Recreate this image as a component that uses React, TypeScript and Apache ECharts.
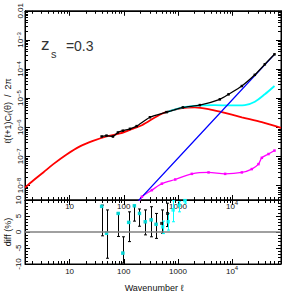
import React, { useEffect, useRef } from 'react';
import * as echarts from 'echarts';

// ---- top panel curves (ℓ, ℓ(ℓ+1)Cℓ/2π) ----
const redL = [1.5, 2.13, 3.26, 5, 8.8, 15.5, 27, 48, 85, 149, 216, 506, 1183, 2055, 3677, 6470, 15140, 35400, 80000];
const redC = [8.4e-9, 1.48e-8, 2.8e-8, 5.4e-8, 1.16e-7, 2.2e-7, 3.4e-7, 4.8e-7, 6.1e-7, 9.0e-7, 1.17e-6, 2.9e-6, 4.5e-6, 4.8e-6, 4.2e-6, 3.3e-6, 2.2e-6, 1.5e-6, 9.5e-7];

const blueL = [180, 1000, 10000, 60700];
const blueC = [2.8e-9, 8.6e-8, 8.6e-6, 3.2e-4];

const blackL = [39, 48, 63, 78, 96, 130, 173, 304, 617, 1233, 2540, 5940, 8600, 15140, 26300, 40200, 60700];
const blackC = [4.8e-7, 5.15e-7, 4.8e-7, 6.6e-7, 7.6e-7, 8.8e-7, 1.09e-6, 2.2e-6, 3.3e-6, 4.8e-6, 5.75e-6, 9.1e-6, 1.35e-5, 2.6e-5, 6.3e-5, 1.45e-4, 3.2e-4];

const cyanL = [617, 1233, 2540, 4800, 9080, 17200, 26300, 40200, 60700];
const cyanC = [3.3e-6, 4.8e-6, 5.6e-6, 5.75e-6, 5.6e-6, 5.75e-6, 7.5e-6, 1.35e-5, 2.6e-5];

const magL = [190, 216, 330, 506, 890, 1807, 3675, 7440, 15140, 23100, 30700, 35400, 47000, 60700];
const magC = [2.6e-9, 4.1e-9, 6.9e-9, 1.15e-8, 1.6e-8, 2.5e-8, 2.8e-8, 2.5e-8, 2.8e-8, 3.65e-8, 5.4e-8, 8.9e-8, 1.2e-7, 1.58e-7];

// ---- bottom panel: diff (%) ----
const binL = [39, 48, 79, 96, 123, 157, 195, 250, 321, 396, 500, 641];
const binVal = [8.0, -0.4, 5.8, -6.6, 3.0, 8.2, 5.8, 3.2, 3.8, 2.4, 2.7, 5.8];
const binLo = [-1.2, -8.2, -1.4, -9.7, -3.0, 3.4, 1.8, -0.9, -1.5, -2.0, -0.4, 1.7];
const binHi = [8.4, 6.9, 5.9, -1.5, 6.3, 8.4, 7.2, 6.9, 7.9, 5.8, 6.9, 9.0];

const cBinL = [39, 48, 79, 96, 123, 157, 195, 250, 321, 396, 521, 661, 817, 1054, 1343];
const cBinVal = [8.0, -0.4, 5.8, -6.6, 3.0, 8.2, 5.8, 3.2, 3.8, 2.4, 1.6, 3.2, 6.9, 8.4, 9.8];
const cBinLo = [8.0, -0.4, 5.8, -6.6, 3.0, 8.2, 5.8, 3.2, 3.8, 2.4, -0.5, 0.6, 3.2, 6.3, 9.0];
const cBinHi = [8.0, -0.4, 5.8, -6.6, 3.0, 8.2, 5.8, 3.2, 3.8, 2.4, 3.4, 5.8, 9.8, 9.5, 10];

const xTickLabels: Record<string, string> = { '1': '{n|10}', '2': '{n|100}', '3': '{n|1000}', '4': '{n|10}{s|4}' };
const yTickLabels: Record<string, string> = {
  '-2': '{n|0.01}', '-3': '{n|10}{s|−3}', '-4': '{n|10}{s|−4}', '-5': '{n|10}{s|−5}',
  '-6': '{n|10}{s|−6}', '-7': '{n|10}{s|−7}', '-8': '{n|10}{s|−8}',
};

const X_MIN = 1.5;
const X_MAX = 80000;
const Y_MIN = Math.pow(10, -8.5);
const Y_MAX = 0.01;

const FONT = "'Liberation Sans', 'DejaVu Sans', sans-serif";
const TXT = '#111';

function logLabel(map: Record<string, string>) {
  return (v: number) => {
    const l = Math.log10(v);
    const r = Math.round(l);
    if (Math.abs(l - r) > 1e-6) return '';
    return map[String(r)] ?? '';
  };
}

function minorTicks(lo: number, hi: number, kFrom: number, kTo: number) {
  const out: number[] = [];
  for (let k = kFrom; k <= kTo; k++) {
    for (let m = 2; m <= 9; m++) {
      const v = m * Math.pow(10, k);
      if (v > lo && v < hi) out.push(v);
    }
  }
  return out;
}

const zip = (a: number[], b: number[]) => a.map((v, i) => [v, b[i]]);

const RICH_X = {
  n: { fontSize: 8, fontFamily: FONT, color: TXT, lineHeight: 13 },
  s: { fontSize: 6, fontFamily: FONT, color: TXT, lineHeight: 7, verticalAlign: 'top' },
};
const RICH_Y = {
  n: { fontSize: 8, fontFamily: FONT, color: TXT, lineHeight: 8, verticalAlign: 'bottom' },
  s: { fontSize: 6, fontFamily: FONT, color: TXT, lineHeight: 5, verticalAlign: 'top', padding: [0, 0, 7, 0] },
};

export default function App() {
  const ref = useRef<HTMLDivElement>(null);
  useEffect(() => {
    if (!ref.current) return;
    const chart = echarts.init(ref.current, undefined, { renderer: 'svg' });
    const xMinor = minorTicks(X_MIN, X_MAX, 0, 4);
    const yMinor = minorTicks(Y_MIN, Y_MAX, -9, -3);
    const tickStyle = { stroke: '#000', lineWidth: 1 };

    const xMinorRender = (params: any, api: any) => {
      const cs = params.coordSys;
      const p = api.coord([api.value(0), api.value(1)]);
      const x = Math.round(p[0]) + 0.5;
      return {
        type: 'group',
        children: [
          { type: 'line', shape: { x1: x, y1: cs.y + cs.height, x2: x, y2: cs.y + cs.height - 3 }, style: tickStyle },
          { type: 'line', shape: { x1: x, y1: cs.y, x2: x, y2: cs.y + 3 }, style: tickStyle },
        ],
      };
    };
    const yMinorRender = (params: any, api: any) => {
      const cs = params.coordSys;
      const p = api.coord([api.value(0), api.value(1)]);
      const y = Math.round(p[1]) + 0.5;
      return {
        type: 'group',
        children: [
          { type: 'line', shape: { x1: cs.x, y1: y, x2: cs.x + 3, y2: y }, style: tickStyle },
          { type: 'line', shape: { x1: cs.x + cs.width, y1: y, x2: cs.x + cs.width - 3, y2: y }, style: tickStyle },
        ],
      };
    };
    const errRender = (color: string) => (params: any, api: any) => {
      const lo = api.coord([api.value(0), api.value(2)]);
      const hi = api.coord([api.value(0), api.value(3)]);
      if (Math.abs(lo[1] - hi[1]) < 0.5) return { type: 'group', children: [] };
      const x = Math.round(lo[0]) + 0.5;
      const st = { stroke: color, lineWidth: 1 };
      return {
        type: 'group',
        children: [
          { type: 'line', shape: { x1: x, y1: lo[1], x2: x, y2: hi[1] }, style: st },
          { type: 'line', shape: { x1: x - 1.5, y1: lo[1], x2: x + 1.5, y2: lo[1] }, style: st },
          { type: 'line', shape: { x1: x - 1.5, y1: hi[1], x2: x + 1.5, y2: hi[1] }, style: st },
        ],
      };
    };

    const axisCommon = {
      axisLine: { show: true, onZero: false, lineStyle: { color: '#000', width: 1 } },
      axisTick: { show: true, inside: true, length: 5, lineStyle: { color: '#000', width: 1 } },
      splitLine: { show: false },
    };
    const xLog = (grid: number, pos: string, showLabel: boolean, margin: number) => ({
      type: 'log', logBase: 10, gridIndex: grid, position: pos, min: X_MIN, max: X_MAX,
      ...axisCommon,
      axisLabel: {
        show: showLabel, showMinLabel: false, showMaxLabel: false, margin,
        fontSize: 8, fontFamily: FONT, color: TXT, formatter: logLabel(xTickLabels), rich: RICH_X,
      },
    });
    const yLog = (pos: string, showLabel: boolean) => ({
      type: 'log', logBase: 10, gridIndex: 0, position: pos, min: Y_MIN, max: Y_MAX,
      ...axisCommon,
      axisLabel: {
        show: showLabel, showMinLabel: false, rotate: 90, margin: 1,
        fontSize: 8, fontFamily: FONT, color: TXT, formatter: logLabel(yTickLabels), rich: RICH_Y,
      },
    });
    const yDiff = (pos: string, showLabel: boolean) => ({
      type: 'value', gridIndex: 1, position: pos, min: -10, max: 10, interval: 5,
      ...axisCommon,
      minorTick: { show: true, splitNumber: 5, length: 3, lineStyle: { color: '#000', width: 1 } },
      axisLabel: { show: showLabel, rotate: 90, margin: 3, fontSize: 8, fontFamily: FONT, color: TXT },
    });

    const option: any = {
      animation: false,
      backgroundColor: '#fff',
      grid: [
        { left: 25, top: 6, width: 256, height: 194, show: true, borderColor: '#000', borderWidth: 1, backgroundColor: 'transparent' },
        { left: 25, top: 200, width: 256, height: 64, show: true, borderColor: '#000', borderWidth: 1, backgroundColor: 'transparent' },
      ],
      xAxis: [
        xLog(0, 'bottom', true, 0),
        xLog(0, 'top', false, 0),
        xLog(1, 'bottom', true, 1),
        xLog(1, 'top', false, 0),
      ],
      yAxis: [yLog('left', true), yLog('right', false), yDiff('left', true), yDiff('right', false)],
      series: [
        { type: 'custom', xAxisIndex: 0, yAxisIndex: 0, silent: true, renderItem: xMinorRender, data: xMinor.map((v) => [v, 1e-5]) },
        { type: 'custom', xAxisIndex: 0, yAxisIndex: 0, silent: true, renderItem: yMinorRender, data: yMinor.map((v) => [10, v]) },
        { type: 'custom', xAxisIndex: 2, yAxisIndex: 2, silent: true, renderItem: xMinorRender, data: xMinor.map((v) => [v, 0]) },
        { type: 'line', xAxisIndex: 0, yAxisIndex: 0, data: zip(redL, redC), showSymbol: false, smooth: 0.3, lineStyle: { color: '#ff0000', width: 1.8 }, itemStyle: { color: '#ff0000' } },
        { type: 'line', xAxisIndex: 0, yAxisIndex: 0, data: zip(magL, magC), symbol: 'rect', symbolSize: 2.5, smooth: 0.3, lineStyle: { color: '#ff00ff', width: 1.3 }, itemStyle: { color: '#ff00ff' } },
        { type: 'line', xAxisIndex: 0, yAxisIndex: 0, data: zip(cyanL, cyanC), showSymbol: false, smooth: 0.3, lineStyle: { color: '#00ffff', width: 1.8 }, itemStyle: { color: '#00ffff' } },
        { type: 'line', xAxisIndex: 0, yAxisIndex: 0, data: zip(blueL, blueC), showSymbol: false, lineStyle: { color: '#0000ff', width: 1.2 }, itemStyle: { color: '#0000ff' } },
        { type: 'line', xAxisIndex: 0, yAxisIndex: 0, data: zip(blackL, blackC), symbol: 'rect', symbolSize: 2.5, smooth: 0.2, lineStyle: { color: '#000', width: 1.3 }, itemStyle: { color: '#000' } },
        { type: 'line', xAxisIndex: 2, yAxisIndex: 2, data: [[X_MIN, 0], [X_MAX, 0]], showSymbol: false, silent: true, lineStyle: { color: '#808080', width: 1.5 } },
        { type: 'custom', xAxisIndex: 2, yAxisIndex: 2, renderItem: errRender('#000'), encode: { x: 0, y: [1, 2, 3] }, data: binL.map((l, i) => [l, binVal[i], binLo[i], binHi[i]]) },
        { type: 'custom', xAxisIndex: 2, yAxisIndex: 2, renderItem: errRender('#00ffff'), encode: { x: 0, y: [1, 2, 3] }, data: cBinL.map((l, i) => [l, cBinVal[i], cBinLo[i], cBinHi[i]]) },
        { type: 'scatter', xAxisIndex: 2, yAxisIndex: 2, data: zip(binL, binVal), symbol: 'rect', symbolSize: 3, itemStyle: { color: '#000' } },
        { type: 'scatter', xAxisIndex: 2, yAxisIndex: 2, data: zip(cBinL, cBinVal), symbol: 'rect', symbolSize: 3.5, itemStyle: { color: '#00ffff' } },
      ],
      graphic: [
        { type: 'text', x: 41, y: 53, style: { text: 'z', fontSize: 17, fontFamily: FONT, fill: '#333', verticalAlign: 'bottom' } },
        { type: 'text', x: 51, y: 59, style: { text: 's', fontSize: 11, fontFamily: FONT, fill: '#333', verticalAlign: 'bottom' } },
        { type: 'text', x: 62, y: 53, style: { text: ' =0.3', fontSize: 14, fontFamily: FONT, fill: '#333', verticalAlign: 'bottom' } },
        {
          type: 'text', x: 8, y: 111, rotation: Math.PI / 2,
          style: {
            text: '{a|ℓ(ℓ+1)C}{b|ℓ}{a|(θ)  /  2π}', align: 'center', verticalAlign: 'middle', fill: TXT,
            rich: {
              a: { fontSize: 9, fontFamily: FONT, fill: TXT, lineHeight: 10 },
              b: { fontSize: 6, fontFamily: FONT, fill: TXT, lineHeight: 6, verticalAlign: 'bottom' },
            },
          },
        },
        { type: 'text', x: 8, y: 232, rotation: Math.PI / 2, style: { text: 'diff (%)', align: 'center', verticalAlign: 'middle', fontSize: 9, fontFamily: FONT, fill: TXT } },
        { type: 'text', x: 154, y: 288, style: { text: 'Wavenumber ℓ', align: 'center', verticalAlign: 'middle', fontSize: 9, fontFamily: FONT, fill: TXT } },
      ],
    };
    chart.setOption(option);
    return () => chart.dispose();
  }, []);
  return <div ref={ref} style={{ position: 'absolute', left: 0, top: 0, width: 284, height: 292 }} />;
}
